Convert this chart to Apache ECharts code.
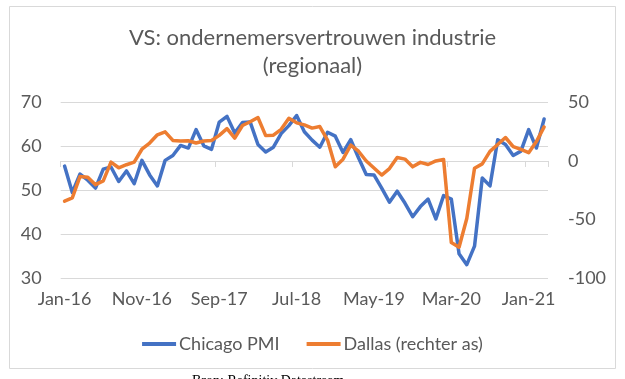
<!DOCTYPE html>
<html>
<head>
<meta charset="utf-8">
<script src="https://cdn.jsdelivr.net/npm/echarts@6/dist/echarts.min.js"></script>
<style>
html,body{margin:0;padding:0;background:#fff;}
#c{width:625px;height:379px;}
</style>
</head>
<body>
<div id="c"></div>
<script>
var months = [];
var mNames = ['Jan','Feb','Mar','Apr','May','Jun','Jul','Aug','Sep','Oct','Nov','Dec'];
for (var y = 16; y <= 21; y++) {
  for (var m = 0; m < 12; m++) {
    if (y === 21 && m > 2) break;
    months.push(mNames[m] + '-' + y);
  }
}

var chicagoPMI = [55.5, 49.5, 53.7, 52.3, 50.5, 54.8, 55.3, 52.0, 54.4, 51.5, 56.8, 53.5,
  51.0, 56.8, 57.9, 60.2, 59.6, 63.8, 60.1, 59.3, 65.5, 66.8, 63.0, 65.4,
  65.5, 60.4, 58.7, 59.8, 62.9, 64.7, 67.0, 63.3, 61.4, 59.8, 63.2, 62.3,
  58.6, 61.5, 57.4, 53.6, 53.5, 50.5, 47.3, 49.8, 47.1, 44.0, 46.3, 48.0,
  43.5, 48.8, 48.0, 35.6, 33.1, 37.3, 52.8, 51.0, 61.5, 60.4, 57.9, 58.9,
  63.8, 59.6, 66.2];

var dallas = [-34.3, -31.5, -13.2, -13.9, -20.2, -17.0, -1.0, -5.8, -3.2, -1.0, 10.0, 15.3,
  22.3, 24.8, 17.5, 17.0, 17.2, 15.3, 17.0, 17.5, 21.8, 27.6, 19.4, 30.2,
  33.4, 37.0, 21.6, 22.0, 27.0, 36.4, 32.5, 30.8, 28.0, 29.3, 17.8, -5.0,
  1.5, 13.5, 8.3, 0.0, -6.0, -12.0, -6.5, 3.0, 1.6, -5.0, -1.2, -3.0,
  0.0, 1.3, -69.5, -73.5, -49.0, -6.2, -2.5, 8.2, 14.0, 20.0, 12.2, 9.8,
  7.1, 16.5, 29.0];

var titleLines = ['VS: ondernemersvertrouwen industrie', '(regionaal)'];
var leftTicks = {min: 30, max: 70, interval: 10};
var rightTicks = {min: -100, max: 50, interval: 50};

var FONT = 'Lato';
var TXT = '#595959';

var chart = echarts.init(document.getElementById('c'), null, {renderer: 'canvas'});
chart.setOption({
  animation: false,
  backgroundColor: '#fff',
  legend: {
    data: ['Chicago PMI', 'Dallas (rechter as)'],
    left: 'center',
    top: 330,
    itemWidth: 34,
    itemHeight: 4,
    itemGap: 27,
    icon: 'rect',
    textStyle: {fontFamily: FONT, fontSize: 18, color: TXT, padding: [0, 0, 0, -2]}
  },
  grid: {left: 60.7, right: 77, top: 102.3, bottom: 100.7, containLabel: false},
  xAxis: {
    type: 'category',
    data: months,
    boundaryGap: true,
    axisLine: {lineStyle: {color: '#D9D9D9', width: 1}},
    axisTick: {show: true, interval: 9, alignWithLabel: false, length: 6, lineStyle: {color: '#D9D9D9'}},
    axisLabel: {interval: 9, fontFamily: FONT, fontSize: 18, color: TXT, margin: 12},
    splitLine: {show: false}
  },
  yAxis: [
    {
      type: 'value', min: leftTicks.min, max: leftTicks.max, interval: leftTicks.interval,
      axisLine: {show: false}, axisTick: {show: false},
      axisLabel: {fontFamily: FONT, fontSize: 18, color: TXT, margin: 19},
      splitLine: {lineStyle: {color: '#D9D9D9', width: 1}}
    },
    {
      type: 'value', min: rightTicks.min, max: rightTicks.max, interval: rightTicks.interval,
      position: 'right',
      axisLine: {show: false}, axisTick: {show: false},
      axisLabel: {fontFamily: FONT, fontSize: 18, color: TXT, margin: 20},
      splitLine: {show: false}
    }
  ],
  series: [
    {
      name: 'Chicago PMI', type: 'line', yAxisIndex: 0, data: chicagoPMI,
      showSymbol: false, symbol: 'none',
      lineStyle: {color: '#4472C4', width: 3.5, join: 'round', cap: 'round'},
      itemStyle: {color: '#4472C4'}
    },
    {
      name: 'Dallas (rechter as)', type: 'line', yAxisIndex: 1, data: dallas,
      showSymbol: false, symbol: 'none',
      lineStyle: {color: '#ED7D31', width: 3.5, join: 'round', cap: 'round'},
      itemStyle: {color: '#ED7D31'}
    }
  ],
  graphic: [
    {
      type: 'rect', silent: true,
      shape: {x: 9.5, y: 6.5, width: 606, height: 362},
      style: {fill: 'none', stroke: '#D9D9D9', lineWidth: 1}
    },
    {
      type: 'text', silent: true, x: 312.5, y: 38,
      style: {text: titleLines[0], fill: TXT, font: '22px Lato', textAlign: 'center', textVerticalAlign: 'middle'}
    },
    {
      type: 'text', silent: true, x: 312.5, y: 66,
      style: {text: titleLines[1], fill: TXT, font: '22px Lato', textAlign: 'center', textVerticalAlign: 'middle'}
    },
    {
      type: 'text', silent: true, x: 192, y: 374,
      style: {text: 'Bron: Refinitiv Datastream', fill: '#000', font: '14px "Liberation Serif"'}
    }
  ]
});
</script>
</body>
</html>
